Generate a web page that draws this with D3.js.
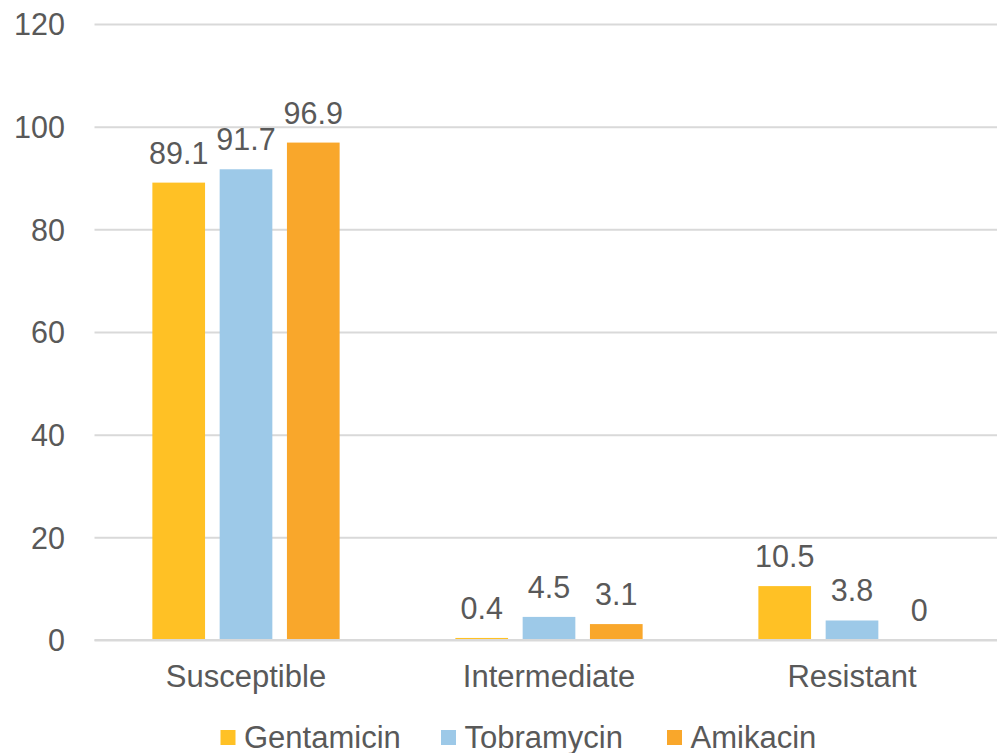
<!DOCTYPE html>
<html>
<head>
<meta charset="utf-8">
<script src="https://cdn.jsdelivr.net/npm/d3@7"></script>
<style>
  body { margin: 0; background: #fff; }
  svg { display: block; }
  text { font-family: "Liberation Sans", Arial, sans-serif; fill: #595959; }
</style>
</head>
<body>
<svg id="chart" width="997" height="753"></svg>
<script>
const categories = ["Susceptible", "Intermediate", "Resistant"];
const seriesNames = ["Gentamicin", "Tobramycin", "Amikacin"];
const gentamicin = [89.1, 0.4, 10.5];
const tobramycin = [91.7, 4.5, 3.8];
const amikacin = [96.9, 3.1, 0];
const yTicks = [0, 20, 40, 60, 80, 100, 120];
const colors = ["#FFC125", "#9DC9E8", "#F9A72B"];

const seriesValues = [gentamicin, tobramycin, amikacin];
const svg = d3.select("#chart");

const plot = { left: 94.5, right: 1003.5, top: 24, bottom: 640 };

const x = d3.scaleBand().domain(categories).range([plot.left, plot.right]).paddingInner(0).paddingOuter(0);
const groupWidth = x.bandwidth() * 0.618;
const x1 = d3.scaleBand().domain(seriesNames)
  .range([(x.bandwidth() - groupWidth) / 2, (x.bandwidth() + groupWidth) / 2])
  .paddingInner(0.217);
const y = d3.scaleLinear().domain([0, 120]).range([plot.bottom, plot.top]);

// gridlines
const yAxis = d3.axisLeft(y).tickValues(yTicks).tickSize(-(plot.right - plot.left)).tickPadding(29.5).tickFormat(d3.format("d"));
const gy = svg.append("g").attr("transform", `translate(${plot.left},0)`).call(yAxis);
gy.select(".domain").remove();
gy.selectAll(".tick line").attr("stroke", "#d9d9d9").attr("stroke-width", 2);
gy.selectAll(".tick text").attr("font-size", 30.5).attr("fill", "#595959").attr("dy", "0.36em")
  .style("font-family", "'Liberation Sans', Arial, sans-serif");

// bars
const groups = svg.append("g").selectAll("g").data(categories).join("g")
  .attr("transform", d => `translate(${x(d)},0)`);

seriesNames.forEach((s, si) => {
  groups.append("rect")
    .attr("x", x1(s))
    .attr("width", x1.bandwidth())
    .attr("y", (d, i) => y(seriesValues[si][i]))
    .attr("height", (d, i) => y(0) - y(seriesValues[si][i]))
    .attr("fill", colors[si]);
  groups.append("text")
    .attr("x", x1(s) + x1.bandwidth() / 2)
    .attr("y", (d, i) => y(seriesValues[si][i]) - 19)
    .attr("text-anchor", "middle")
    .attr("font-size", 30.5)
    .text((d, i) => seriesValues[si][i]);
});

// baseline
svg.append("line").attr("x1", plot.left).attr("x2", plot.right)
  .attr("y1", y(0)).attr("y2", y(0)).attr("stroke", "#d9d9d9").attr("stroke-width", 2);

// x axis labels
const xAxis = d3.axisBottom(x).tickSize(0).tickPadding(0);
const gx = svg.append("g").attr("transform", `translate(0,${plot.bottom})`).call(xAxis);
gx.select(".domain").remove();
gx.selectAll(".tick text").attr("font-size", 31).attr("fill", "#595959")
  .attr("y", 47).attr("dy", 0)
  .style("font-family", "'Liberation Sans', Arial, sans-serif");

// legend
const legendX = [220.5, 441, 667];
const legend = svg.append("g");
seriesNames.forEach((s, i) => {
  legend.append("rect").attr("x", legendX[i]).attr("y", 730).attr("width", 15).attr("height", 15).attr("fill", colors[i]);
  legend.append("text").attr("x", legendX[i] + 23.5).attr("y", 748).attr("font-size", 31).text(s);
});
</script>
</body>
</html>
